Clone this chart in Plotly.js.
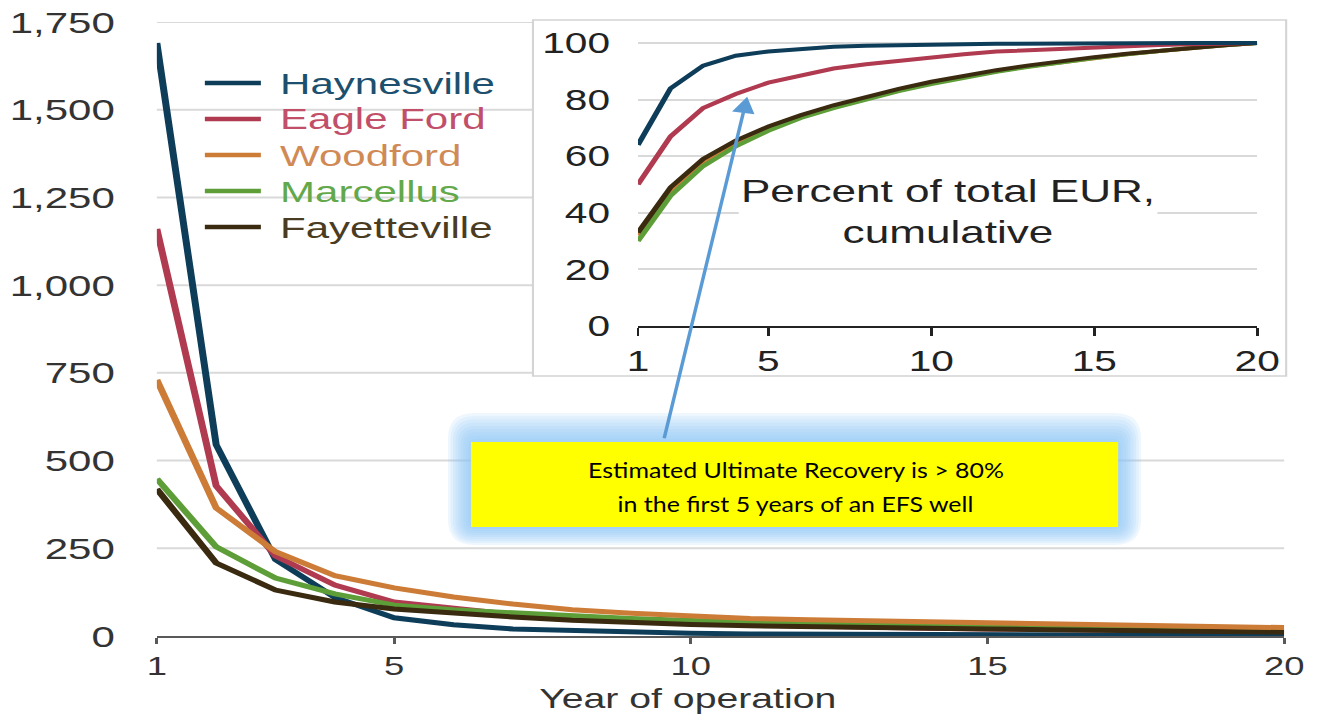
<!DOCTYPE html>
<html>
<head>
<meta charset="utf-8">
<script src="https://cdn.plot.ly/plotly-3.0.1.min.js"></script>
<style>
  html, body { margin: 0; padding: 0; background: #ffffff; overflow: hidden; }
  #chart { width: 944px; height: 715px; transform: scaleX(1.4004); transform-origin: 0 0; }
</style>
</head>
<body>
<div id="chart"></div>
<script>
// ---------- data ----------
const years = [1,2,3,4,5,6,7,8,9,10,11,12,13,14,15,16,17,18,19,20];
const seriesNames = ["Haynesville", "Eagle Ford", "Woodford", "Marcellus", "Fayetteville"];

// Annual production per well (main chart)
const haynesville  = [1690, 545, 218, 110, 52, 32, 20, 15, 11, 8, 6, 5, 4, 4, 3, 3, 3, 2, 2, 2];
const eagleFord    = [1160, 428, 228, 145, 97, 80, 62, 50, 42, 36, 31, 27, 24, 22, 20, 18, 16, 15, 14, 13];
const woodford     = [730, 365, 240, 172, 137, 111, 91, 75, 65, 56, 50, 46, 43, 40, 37, 34, 31, 29, 27, 24];
const marcellus    = [448, 254, 165, 120, 88, 75, 66, 57, 50, 44, 39, 35, 32, 29, 27, 25, 23, 21, 19, 18];
const fayetteville = [419, 208, 131, 97, 77, 64, 54, 45, 38, 33, 29, 26, 24, 22, 20, 18, 16, 14, 12, 11];

// Percent of total EUR, cumulative (inset)
const haynesvilleCum  = [64, 84, 92, 95.5, 97, 98, 98.7, 99, 99.3, 99.5, 99.6, 99.7, 99.8, 99.9, 100, 100, 100, 100, 100, 100];
const eagleFordCum    = [50, 67, 77, 82, 86, 88.5, 91, 92.5, 93.7, 95, 96, 97, 97.5, 98, 98.5, 99, 99.3, 99.6, 99.8, 100];
const woodfordCum     = [32, 48, 58, 65, 70, 74, 77.5, 80.5, 83.2, 85.8, 88, 90, 91.8, 93.3, 94.7, 96, 97.2, 98.3, 99.2, 100];
const marcellusCum    = [30, 46, 56.5, 63.5, 69, 73.5, 77, 80, 83, 85.5, 87.8, 89.8, 91.6, 93.2, 94.7, 96, 97.2, 98.3, 99.2, 100];
const fayettevilleCum = [33, 49, 59, 65.5, 70.5, 74.5, 78, 81, 83.8, 86.3, 88.5, 90.4, 92.1, 93.6, 95, 96.2, 97.3, 98.4, 99.2, 100];

const xTickVals = [1, 5, 10, 15, 20];
const yTickVals = [0, 250, 500, 750, 1000, 1250, 1500, 1750];
const y2TickVals = [0, 20, 40, 60, 80, 100];

const xTitle = "Year of operation";
const insetLabel = "Percent of total EUR,<br>cumulative";
const noteLine1 = "Estimated Ultimate Recovery is > 80%";
const noteLine2 = "in the first 5 years of an EFS well";
const arrowTarget = {x: 4.35, y: 81};

// ---------- styling ----------
const lineColors = ["#0e3d5a", "#b03a4f", "#cd7c37", "#5e9e38", "#3a2a10"];
const textColors = ["#1d4f6e", "#c24f69", "#d08a55", "#63a84a", "#4a3c22"];
const mainValues = [haynesville, eagleFord, woodford, marcellus, fayetteville];
const cumValues = [haynesvilleCum, eagleFordCum, woodfordCum, marcellusCum, fayettevilleCum];
const FONT = "Liberation Sans, Arial, Helvetica, sans-serif";

const mainOrder = [0, 1, 3, 4, 2];
const mainTraces = mainOrder.map(i => ({
  x: years, y: mainValues[i], type: "scatter", mode: "lines", name: seriesNames[i],
  line: {color: lineColors[i], width: 5}, showlegend: false,
  xaxis: "x", yaxis: "y", hoverinfo: "skip"
}));

const cumOrder = [2, 3, 4, 1, 0];
const insetTraces = cumOrder.map(i => ({
  x: years, y: cumValues[i], type: "scatter", mode: "lines", name: seriesNames[i],
  line: {color: lineColors[i], width: 4},
  showlegend: false, xaxis: "x2", yaxis: "y2", hoverinfo: "skip"
}));

// paper-coordinate helpers from reference pixel positions
const PL = 157, PR = 1284, PT = 22, PB = 636;
const px = v => (v - PL) / (PR - PL);
const py = v => (PB - v) / (PB - PT);

function roundRect(l, t, r, b, rad) {
  const x0 = px(l), x1 = px(r), y0 = py(b), y1 = py(t);
  const rx = rad / (PR - PL), ry = rad / (PB - PT);
  return "M" + (x0 + rx) + "," + y1 +
         " L" + (x1 - rx) + "," + y1 + " Q" + x1 + "," + y1 + " " + x1 + "," + (y1 - ry) +
         " L" + x1 + "," + (y0 + ry) + " Q" + x1 + "," + y0 + " " + (x1 - rx) + "," + y0 +
         " L" + (x0 + rx) + "," + y0 + " Q" + x0 + "," + y0 + " " + x0 + "," + (y0 + ry) +
         " L" + x0 + "," + (y1 - ry) + " Q" + x0 + "," + y1 + " " + (x0 + rx) + "," + y1 + " Z";
}

const shapes = [];
yTickVals.filter(v => v > 0).forEach(v => {
  shapes.push({type: "line", xref: "paper", yref: "y", x0: 0, x1: 1, y0: v, y1: v,
               line: {color: "#d9d9d9", width: 2}, layer: "below"});
});
// inset panel
shapes.push({type: "rect", xref: "paper", yref: "paper",
             x0: px(533), x1: px(1286), y0: py(376), y1: py(20),
             fillcolor: "#ffffff", line: {color: "#d4d4d4", width: 1.5}, layer: "below"});
// soft blue glow around the note box
for (let k = 0; k < 9; k++) {
  const f = 1 - k / 9;
  shapes.push({type: "path", xref: "paper", yref: "paper",
               path: roundRect(471 - 23 * f, 442 - 29 * f, 1118 + 23 * f, 527 + 18 * f, 6 + 20 * f),
               fillcolor: "#8cc4f7", opacity: 0.14, line: {width: 0}, layer: "below"});
}
shapes.push({type: "rect", xref: "paper", yref: "paper",
             x0: px(471), x1: px(1118), y0: py(527), y1: py(442),
             fillcolor: "#ffff00", line: {width: 0}, layer: "below"});
// legend keys
seriesNames.forEach((name, i) => {
  const yc = 83 + i * 36;
  shapes.push({type: "line", xref: "paper", yref: "paper", x0: px(205), x1: px(261), y0: py(yc), y1: py(yc),
               line: {color: lineColors[i], width: 4.5}, layer: "above"});
});

const NOTE_FONT = "Lato, Carlito, Calibri, sans-serif";
const annotations = [
  {text: xTitle, xref: "paper", yref: "paper", x: px(688), y: py(698.5),
   showarrow: false, font: {family: FONT, size: 28, color: "#333333"}, xanchor: "center", yanchor: "middle"},
  {text: insetLabel, xref: "paper", yref: "paper", x: px(948), y: py(211),
   showarrow: false, font: {family: FONT, size: 31.5, color: "#222222"}, bgcolor: "#ffffff",
   xanchor: "center", yanchor: "middle"},
  {text: noteLine1, xref: "paper", yref: "paper", x: px(796), y: py(469),
   showarrow: false, font: {family: NOTE_FONT, size: 22, color: "#000000"},
   xanchor: "center", yanchor: "middle"},
  {text: noteLine2, xref: "paper", yref: "paper", x: px(796), y: py(503),
   showarrow: false, font: {family: NOTE_FONT, size: 22, color: "#000000"},
   xanchor: "center", yanchor: "middle"},
  {text: "", xref: "x2", yref: "y2", x: arrowTarget.x, y: arrowTarget.y,
   showarrow: true, ax: -59.5, ay: 343, arrowcolor: "#5b9bd5", arrowwidth: 2.5,
   arrowhead: 2, arrowsize: 1.3, standoff: 0}
];
// legend labels
seriesNames.forEach((name, i) => {
  annotations.push({text: name, xref: "paper", yref: "paper", x: px(278), y: py(83 + i * 36),
    showarrow: false, xanchor: "left", yanchor: "middle",
    font: {family: FONT, size: 30, color: textColors[i]}});
});

const layout = {
  width: 944, height: 715,
  margin: {l: 112, r: 27, t: 22, b: 79},
  paper_bgcolor: "#ffffff", plot_bgcolor: "rgba(0,0,0,0)",
  font: {family: FONT, color: "#333333"},
  showlegend: false,
  xaxis: {domain: [0, 1], range: [1, 20], tickvals: xTickVals, showgrid: false, zeroline: false,
          showline: true, linecolor: "#595959", linewidth: 2, ticks: "outside", ticklen: 6,
          tickwidth: 2, tickcolor: "#595959", tickfont: {size: 26, color: "#333333"}, anchor: "y"},
  yaxis: {domain: [0, 1], range: [0, 1750], tickvals: yTickVals, tickformat: ",", showgrid: false,
          zeroline: false, showline: false, ticks: "", ticklabelstandoff: 29,
          tickfont: {size: 30, color: "#333333"}, anchor: "x"},
  xaxis2: {domain: [px(638), px(1257)], range: [1, 20], tickvals: xTickVals, showgrid: false,
           zeroline: false, showline: true, linecolor: "#222222", linewidth: 2, ticks: "outside",
           ticklen: 8, tickwidth: 2, tickcolor: "#222222", tickfont: {size: 29, color: "#222222"}, anchor: "y2"},
  yaxis2: {domain: [py(326), py(326 - 102 * 2.83)], range: [0, 102], tickvals: y2TickVals, showgrid: true,
           gridcolor: "#d9d9d9", gridwidth: 2, zeroline: false, showline: false, ticks: "",
           ticklabelstandoff: 19, tickfont: {size: 29, color: "#222222"}, anchor: "x2"},
  shapes: shapes,
  annotations: annotations
};

Plotly.newPlot("chart", mainTraces.concat(insetTraces), layout, {displayModeBar: false, staticPlot: true})
  .then(gd => {
    // the note text in the reference is not horizontally stretched: undo part of the page stretch
    const k = 0.81;
    const cx = layout.margin.l + px(796) * (layout.width - layout.margin.l - layout.margin.r);
    gd.querySelectorAll("g.annotation").forEach(g => {
      const t = g.textContent;
      if (t === noteLine1 || t === noteLine2) {
        g.setAttribute("transform", "translate(" + cx + ",0) scale(" + k + ",1) translate(" + (-cx) + ",0)");
      }
    });
  });
</script>
</body>
</html>
